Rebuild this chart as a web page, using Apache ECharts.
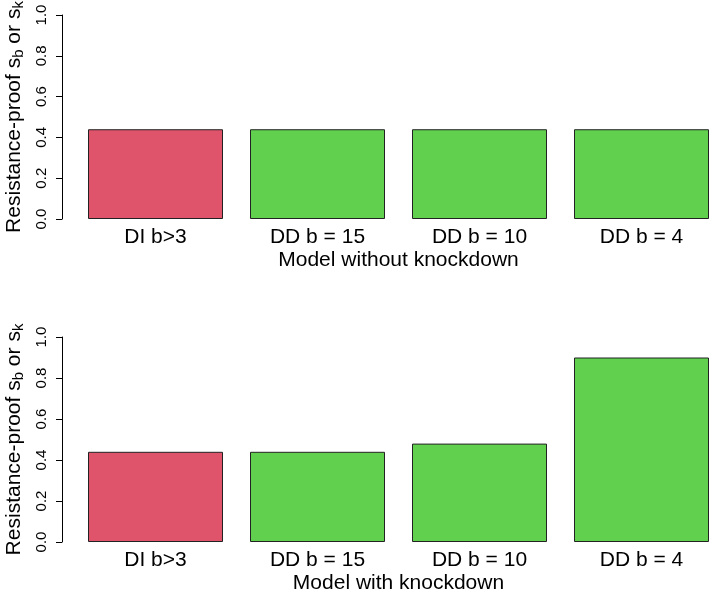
<!DOCTYPE html>
<html>
<head>
<meta charset="utf-8">
<script src="https://cdn.jsdelivr.net/npm/echarts@6/dist/echarts.min.js"></script>
<style>
  html, body { margin: 0; padding: 0; background: #fff; }
  #chart { width: 709px; height: 598px; }
</style>
</head>
<body>
<div id="chart"></div>
<script>
const categories = ["DI b>3", "DD b = 15", "DD b = 10", "DD b = 4"];
const modelTypes = ["DI", "DD", "DD", "DD"];
const withoutKnockdown = [0.44, 0.44, 0.44, 0.44];
const withKnockdown = [0.44, 0.44, 0.48, 0.90];
const yTicks = [0, 0.2, 0.4, 0.6, 0.8, 1.0];
const panelTitles = ["Model without knockdown", "Model with knockdown"];

const FONT = "'Liberation Sans', Arial, sans-serif";
const typeColors = { DI: "#DF536B", DD: "#61D04F" };

const chart = echarts.init(document.getElementById("chart"), null, { renderer: "canvas" });

// one x/y pair per panel
function xAxisFor(i) {
  return {
    type: "category",
    gridIndex: i,
    data: categories,
    axisLine: { show: false },
    axisTick: { show: false },
    axisLabel: { color: "#000", fontSize: 21, fontFamily: FONT, margin: 8, interval: 0 },
    name: panelTitles[i],
    nameLocation: "middle",
    nameGap: 31,
    nameTextStyle: { color: "#000", fontSize: 21, fontFamily: FONT },
  };
}

function yAxisFor(i) {
  return {
    type: "value",
    gridIndex: i,
    min: yTicks[0],
    max: yTicks[yTicks.length - 1],
    interval: 0.2,
    offset: 12.5,
    splitLine: { show: false },
    axisLine: { show: true, lineStyle: { color: "#000", width: 1 } },
    axisTick: { show: true, length: 6, lineStyle: { color: "#000" } },
    axisLabel: {
      color: "#000", fontSize: 15, fontFamily: FONT, rotate: 90, margin: 13,
      formatter: (v) => v.toFixed(1),
    },
    name: "Resistance-proof s{sub|b} or s{sub|k}",
    nameLocation: "middle",
    nameRotate: 90,
    nameGap: 36,
    nameTextStyle: {
      color: "#000", fontSize: 21, fontFamily: FONT,
      rich: { sub: { fontSize: 15, fontFamily: FONT, color: "#000", padding: [8, 0, 0, 0], verticalAlign: "bottom" } },
    },
  };
}

function seriesFor(i, values) {
  return {
    type: "bar",
    xAxisIndex: i,
    yAxisIndex: i,
    data: values,
    barWidth: 135,
    silent: true,
    itemStyle: {
      color: (p) => typeColors[modelTypes[p.dataIndex]],
      borderColor: "#222",
      borderWidth: 1,
    },
  };
}

const options = {
  animation: false,
  grid: [
    { left: 74.5, right: -13.5, top: 15, height: 204, outerBoundsMode: "none", containLabel: false },
    { left: 74.5, right: -13.5, top: 337, height: 205, outerBoundsMode: "none", containLabel: false },
  ],
  xAxis: [xAxisFor(0), xAxisFor(1)],
  yAxis: [yAxisFor(0), yAxisFor(1)],
  series: [seriesFor(0, withoutKnockdown), seriesFor(1, withKnockdown)],
};

chart.setOption(options);
</script>
</body>
</html>
